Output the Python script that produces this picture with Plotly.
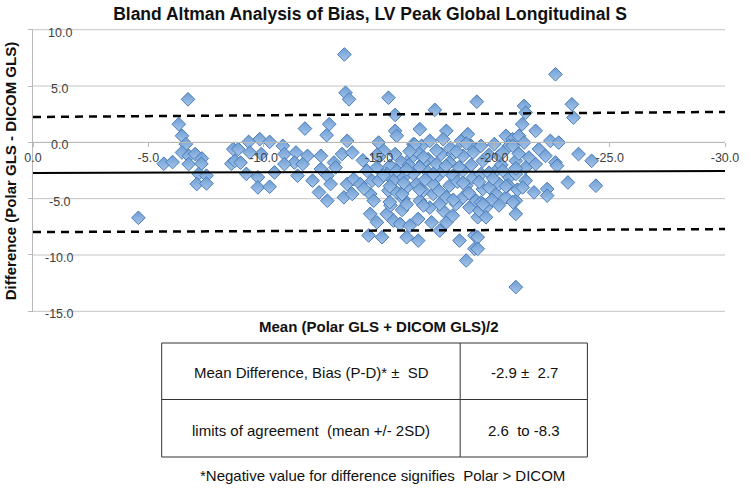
import plotly.graph_objects as go

# ---- data (mean of the two methods, difference) ----
mean_x = [
    -4.57, -5.67, -6.05, -6.72, -6.32, -6.46, -6.63, -6.46, -6.75, -7.03, -7.32, -6.75, -7.30, -7.18,
    -7.52, -7.10, -7.52, -8.68, -8.60,
    -13.50, -13.55, -13.70, -11.79, -12.84, -12.73, -13.62, -9.35, -9.83, -10.26, -8.90, -9.40, -9.90,
    -10.83, -10.90, -11.40, -11.90, -12.48, -13.40, -13.84, -8.75, -9.00, -11.33, -13.05,
    -9.25, -9.75, -9.75, -10.26, -10.47, -10.90, -11.47, -11.69, -12.12, -12.40, -12.76, -12.48, -12.76,
    -12.90, -13.12, -13.62, -13.90, -13.48, -13.84,
    -15.41, -15.70, -17.42, -19.24, -16.77, -17.92, -15.70, -15.77, -14.98, -15.20, -15.70, -16.49,
    -16.85, -17.20, -17.78, -18.56, -18.85, -18.99, -19.42, -16.42, -17.13, -17.70, -18.20, -18.64,
    -19.50, -15.99,
    -14.19, -14.70, -14.98, -14.62, -14.77, -14.62, -14.91, -14.55, -15.13, -15.34, -15.63, -15.91,
    -16.34, -16.20, -16.70, -16.70, -17.28, -17.92, -17.63, -17.78, -18.20, -18.49, -19.14, -19.14,
    -18.78, -19.28, -15.41, -15.77, -16.20, -16.06, -16.77, -16.92, -17.35, -17.63, -17.92, -18.35,
    -18.64, -18.92, -19.21, -19.35, -14.48, -14.91, -15.48, -15.77, -16.06, -16.49, -17.06, -17.49,
    -17.78, -18.20, -18.64, -19.07, -19.42, -15.63, -16.63, -17.35, -18.06, -18.78, -19.50, -15.34,
    -16.92, -17.49, -18.06,
    -22.65, -21.29, -21.36, -23.36, -23.43, -21.21, -21.79, -20.50, -20.79, -21.07, -21.29, -20.64,
    -20.00, -22.43, -22.79, -21.93, -23.65, -24.22, -21.50, -22.22, -20.21, -20.93, -22.65,
    -23.19, -24.40, -22.29, -22.29, -21.72, -21.36, -20.93, -20.93, -20.64, -20.50, -20.07, -20.21,
    -19.78, -19.64, -19.42, -19.64, -19.28, -19.28, -20.93, -20.93, -21.36, -20.07, -22.72, -21.79,
    -15.20, -16.30, -17.00, -17.90, -18.40, -19.00, -16.00, -17.60, -18.90, -15.00, -16.70, -18.10,
    -14.30, -20.30, -20.60, -21.00, -19.90, -17.20, -16.00, -15.50,
    -16.55, -18.78, -20.80, -14.91, -16.33, -16.93, -17.49, -18.35, -19.08, -19.77, -20.37, -21.06,
    -16.20, -16.76, -17.36, -18.48, -19.77, -20.37, -20.93, -14.35, -15.47, -16.07, -16.76, -18.65,
    -19.34, -19.94, -20.50, -21.23, -15.47, -16.20, -16.93, -18.22, -19.51, -20.20, -20.80,
]
diff_y = [
    -6.70, -1.90, -1.75, 3.82, 1.61, 0.58, -0.16, -0.90, -1.20, -1.04, -1.43, -1.93, -1.90, -2.80,
    -2.96, -3.70, -3.65, -0.60, -1.90,
    7.80, 4.40, 3.82, 1.22, 1.61, 0.64, 0.13, 0.04, 0.28, 0.04, -0.60, -0.90, -1.04,
    -0.31, -1.04, -0.90, -1.20, -1.20, -1.04, -0.90, -1.64, -1.80, -1.79, -1.79,
    -2.80, -3.10, -4.00, -3.94, -2.67, -1.93, -2.96, -1.93, -3.40, -4.44, -5.18, -2.37, -2.96,
    -3.70, -2.23, -3.70, -3.26, -4.88, -4.58,
    3.96, 2.43, 2.88, 3.61, 1.17, 1.02, 1.02, 0.58, -0.02, -0.75, -1.04, -0.16,
    -0.31, 0.13, 0.28, 0.13, 0.73, -0.31, -0.31, -1.35, -1.49, -1.04, -1.04, -1.20,
    -1.64, -1.79,
    -3.70, -3.40, -3.40, -4.58, -5.18, -6.35, -7.10, -8.27, -8.42, -6.35, -6.95, -7.24,
    -7.39, -8.42, -8.72, -6.80, -7.10, -7.10, -7.83, -6.06, -6.50, -8.72, -8.27, -9.45,
    -10.49, -6.65, -4.29, -4.44, -4.00, -5.03, -5.18, -4.29, -4.58, -5.47, -4.88, -5.47,
    -4.88, -5.77, -5.18, -6.06, -2.52, -2.23, -2.08, -2.52, -3.12, -2.81, -2.52, -3.12,
    -2.52, -2.96, -2.52, -3.12, -2.81, -3.40, -3.70, -3.70, -3.85, -3.85, -4.14, -2.81,
    -1.79, -1.93, -1.79,
    6.04, 3.23, 2.64, 3.38, 2.20, 1.61, 1.02, 0.58, 0.28, 0.58, -0.02, -0.31,
    -0.16, 0.13, -0.02, -0.60, -1.04, -1.64, -1.35, -1.20, -1.20, -1.64, -1.79,
    -3.56, -3.85, -4.14, -4.73, -4.44, -3.40, -5.18, -6.35, -3.12, -4.88, -4.58, -3.70,
    -4.00, -5.77, -5.33, -6.65, -8.42, -9.45, -12.85, -2.81, -2.23, -2.52, -2.08, -1.93,
    -2.90, -2.00, -3.30, -2.10, -3.50, -2.00, -4.60, -4.30, -4.50, -1.30, -0.90, -0.50,
    -1.60, -2.00, -3.80, -4.20, -5.10, -5.80, -6.00, -5.60,
    -0.20, -0.10, -0.30, -1.10, -0.80, -1.30, -0.70, -0.80, -0.90, -1.10, -0.90, -1.00,
    -2.40, -2.20, -2.80, -2.20, -2.70, -2.50, -2.30, -4.10, -3.90, -3.60, -4.20, -3.60,
    -3.50, -3.20, -3.90, -4.00, -5.30, -5.50, -5.60, -5.10, -5.50, -5.60, -5.30,
]

# bias line and limits of agreement (as drawn, slightly sloped in the source)
line_x = [0, -30]
bias_y = [-2.72, -2.55]
upper_y = [2.25, 2.70]
lower_y = [-7.97, -7.70]

x_tick_vals = [0, -5, -10, -15, -20, -25, -30]
x_tick_text = ["0.0", "-5.0", "-10.0", "-15.0", "-20.0", "-25.0", "-30.0"]
y_tick_vals = [10, 5, 0, -5, -10, -15]
y_tick_text = ["10.0", "5.0", "0.0", "-5.0", "-10.0", "-15.0"]

table_labels = ["Mean Difference, Bias (P-D)* \u00b1  SD", "limits of agreement  (mean +/- 2SD)"]
table_values = ["-2.9 \u00b1  2.7", "2.6  to -8.3"]
footnote = "*Negative value for difference signifies  Polar > DICOM"

title_text = "Bland Altman Analysis of Bias, LV Peak Global Longitudinal S"
x_title = "Mean (Polar GLS + DICOM GLS)/2"
y_title = "Difference (Polar GLS - DICOM GLS)"

FONT = "Liberation Sans, Arial, sans-serif"

W, H = 751, 490
L, R, T, B = 33, 19, 29, 178
PW, PH = W - L - R, H - T - B


def px(x):
    return (x - L) / PW


def py(y):
    return (H - B - y) / PH


fig = go.Figure()
fig.add_trace(go.Scatter(
    x=mean_x, y=diff_y, mode="markers",
    marker=dict(symbol="diamond", size=10.5, color="#6d9dd3",
                line=dict(color="#4a7cb8", width=1),
                gradient=dict(type="vertical", color="#a6c5ea")),
    showlegend=False, hoverinfo="x+y",
))
fig.add_trace(go.Scatter(x=line_x, y=bias_y, mode="lines",
                         line=dict(color="black", width=2), showlegend=False))
for ly in (upper_y, lower_y):
    fig.add_trace(go.Scatter(x=line_x, y=ly, mode="lines",
                             line=dict(color="black", width=2.5, dash="8px,6px"),
                             showlegend=False))

tickfont = dict(family=FONT, size=12.5, color="#404040")
fig.update_layout(
    width=W, height=H, margin=dict(l=L, r=R, t=T, b=B),
    paper_bgcolor="white", plot_bgcolor="white",
    title=dict(text=title_text, x=370 / W, xref="container", xanchor="center",
               y=1 - 14 / H, yref="container", yanchor="middle",
               font=dict(family=FONT, size=17.5, color="#111111", weight="bold")),
    xaxis=dict(range=[0, -30], tickvals=x_tick_vals, ticktext=x_tick_text,
               anchor="free", position=0.6, showline=True, linecolor="#b8b8b8",
               linewidth=1, ticks="outside", ticklen=4, tickcolor="#b8b8b8",
               showgrid=False, zeroline=False, tickfont=tickfont),
    yaxis=dict(range=[-15.06, 10.06], tickvals=y_tick_vals, showticklabels=False,
               showgrid=False, showline=True,
               linecolor="#b8b8b8", ticks="outside", ticklen=4, tickcolor="#b8b8b8",
               zeroline=False, layer="below traces"),
)

anns = []
for tv, tt in zip(y_tick_vals, y_tick_text):
    anns.append(dict(text=tt, x=px(60), y=tv, xref="paper", yref="y", yshift=-3,
                     showarrow=False, xanchor="center", yanchor="middle", font=tickfont))
anns.append(dict(text=y_title, x=px(10), y=py(171), xref="paper", yref="paper",
                 textangle=-90, showarrow=False, xanchor="center", yanchor="middle",
                 font=dict(family=FONT, size=15, color="#111111", weight="bold")))
anns.append(dict(text=x_title, x=px(383), y=py(326), xref="paper", yref="paper",
                 showarrow=False, xanchor="center", yanchor="middle",
                 font=dict(family=FONT, size=15, color="#111111", weight="bold")))
row_y = [372, 431]
for lab, val, ry in zip(table_labels, table_values, row_y):
    anns.append(dict(text=lab, x=px(314), y=py(ry), xref="paper", yref="paper",
                     showarrow=False, xanchor="center", yanchor="middle",
                     font=dict(family=FONT, size=15, color="#111111")))
    anns.append(dict(text=val, x=px(529), y=py(ry), xref="paper", yref="paper",
                     showarrow=False, xanchor="center", yanchor="middle",
                     font=dict(family=FONT, size=15, color="#111111")))
anns.append(dict(text=footnote, x=px(386), y=py(475), xref="paper", yref="paper",
                 showarrow=False, xanchor="center", yanchor="middle",
                 font=dict(family=FONT, size=15, color="#111111")))
fig.update_layout(annotations=anns)

shapes = []
# horizontal gridlines at the y ticks
for tv in y_tick_vals:
    shapes.append(dict(type="line", xref="paper", yref="y", x0=0, x1=1, y0=tv, y1=tv,
                       layer="below", line=dict(color="#c4c4c4", width=1)))
tl, td, tr = 163, 464.5, 593
tt_, tm, tb = 343, 399.5, 457
bc = "#333333"
shapes.append(dict(type="rect", xref="paper", yref="paper", x0=px(tl), x1=px(tr),
                   y0=py(tb), y1=py(tt_), line=dict(color=bc, width=1)))
shapes.append(dict(type="line", xref="paper", yref="paper", x0=px(td), x1=px(td),
                   y0=py(tb), y1=py(tt_), line=dict(color=bc, width=1)))
shapes.append(dict(type="line", xref="paper", yref="paper", x0=px(tl), x1=px(tr),
                   y0=py(tm), y1=py(tm), line=dict(color=bc, width=1)))
fig.update_layout(shapes=shapes)

fig.write_html("out.html", config={"displayModeBar": False},
               post_script="document.body.style.margin='0';")
